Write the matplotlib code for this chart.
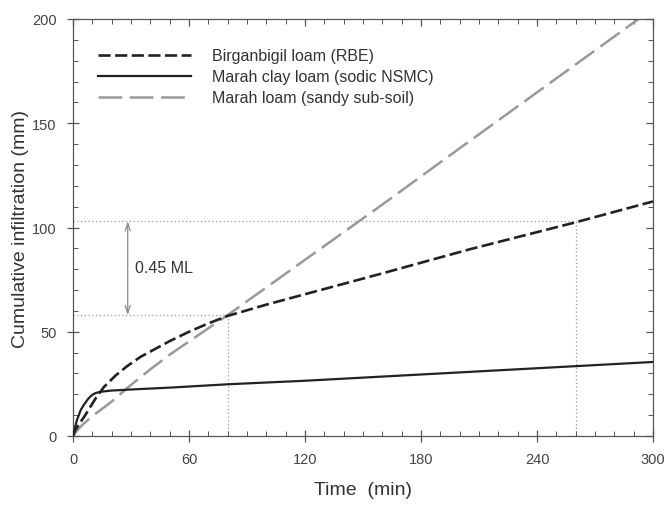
import matplotlib
matplotlib.use("Agg")
import matplotlib.pyplot as plt
from matplotlib.ticker import MultipleLocator

plt.rcParams['font.family'] = ['Liberation Sans', 'DejaVu Sans']

# Birganbigil loam (RBE)
time_rbe = [0, 1, 3, 6, 9, 12, 16, 22, 28, 35, 42, 50, 60, 70, 80, 100, 120, 160, 205, 260, 300]
infil_rbe = [0, 2.5, 5.5, 9.5, 14, 18.5, 23.5, 29, 33.5, 38, 41.5, 45.5, 50, 54, 57.6, 63, 68, 78, 89.5, 102.5, 112.5]

# Marah clay loam (sodic NSMC)
time_nsmc = [0, 1, 2, 3, 4, 6, 8, 10, 12, 15, 20, 30, 50, 80, 120, 180, 240, 300]
infil_nsmc = [0, 4, 7.5, 10, 12.5, 15.5, 18, 19.8, 20.7, 21.3, 21.8, 22.3, 23.2, 24.8, 26.5, 29.5, 32.5, 35.5]

# Marah loam (sandy sub-soil)
time_sandy = [0, 2, 5, 10, 15, 20, 30, 40, 50, 65, 80, 120, 160, 200, 250, 300]
infil_sandy = [0, 2.5, 5.5, 9.5, 13, 16.5, 24.5, 32, 39, 48.5, 58, 84.5, 111, 138, 171.5, 205]

labels = ["Birganbigil loam (RBE)", "Marah clay loam (sodic NSMC)", "Marah loam (sandy sub-soil)"]

# reference markers
ml_times = [80, 260]
ml_values = [58, 103]
ml_text = "0.45 ML"
ml_arrow_time = 28.3

xticks = [0, 60, 120, 180, 240, 300]
yticks = [0, 50, 100, 150, 200]

fig = plt.figure(figsize=(6.67, 5.06), dpi=100)
ax = fig.add_axes([73/667, 1-437/506, 580/667, 417/506])

txt = '#333333'
dot_c = '#9a9a9a'

# dotted guide lines
ax.plot([0, ml_times[0]], [ml_values[0]]*2, color=dot_c, lw=0.9, ls=(0, (1, 2)), zorder=1)
ax.plot([0, ml_times[1]], [ml_values[1]]*2, color=dot_c, lw=0.9, ls=(0, (1, 2)), zorder=1)
ax.plot([ml_times[0]]*2, [0, ml_values[0]], color=dot_c, lw=0.9, ls=(0, (1, 2)), zorder=1)
ax.plot([ml_times[1]]*2, [0, ml_values[1]], color=dot_c, lw=0.9, ls=(0, (1, 2)), zorder=1)

ax.annotate('', xy=(ml_arrow_time, ml_values[1]), xytext=(ml_arrow_time, ml_values[0]),
            arrowprops=dict(arrowstyle='<->,head_length=0.55,head_width=0.18', color='#8a8a8a', lw=0.9,
                            shrinkA=0, shrinkB=0))
ax.text(32, 80.7, ml_text, ha='left', va='center', fontsize=11.5, color=txt)

l1, = ax.plot(time_rbe, infil_rbe, color='#222222', lw=1.9, ls=(0, (4.6, 1.7)), label=labels[0], zorder=3)
l2, = ax.plot(time_nsmc, infil_nsmc, color='#222222', lw=1.6, ls='-', label=labels[1], zorder=3)
l3, = ax.plot(time_sandy, infil_sandy, color='#999999', lw=1.8, ls=(0, (9.5, 3)), label=labels[2], zorder=2)

ax.set_xlim(0, 300)
ax.set_ylim(0, 200)
ax.set_xticks(xticks)
ax.set_yticks(yticks)
ax.xaxis.set_minor_locator(MultipleLocator(10))
ax.yaxis.set_minor_locator(MultipleLocator(10))

for s in ax.spines.values():
    s.set_color('#555555')
    s.set_linewidth(0.9)

ax.tick_params(which='major', direction='inout', length=8.5, width=0.9, color='#555555',
               labelsize=10.5, labelcolor='#444444', pad=7.5, top=False, right=False)
ax.tick_params(which='minor', direction='in', length=3.5, width=0.7, color='#555555',
               top=False, right=False)

# inward ticks on top and right
secx = ax.secondary_xaxis('top')
secx.set_xticks(xticks)
secx.xaxis.set_minor_locator(MultipleLocator(10))
secx.tick_params(which='major', direction='in', length=5, width=0.9, color='#555555', labeltop=False)
secx.tick_params(which='minor', direction='in', length=3.5, width=0.7, color='#555555')
secx.spines['top'].set_visible(False)
secy = ax.secondary_yaxis('right')
secy.set_yticks(yticks)
secy.yaxis.set_minor_locator(MultipleLocator(10))
secy.tick_params(which='major', direction='in', length=5, width=0.9, color='#555555', labelright=False)
secy.tick_params(which='minor', direction='in', length=3.5, width=0.7, color='#555555')
secy.spines['right'].set_visible(False)

ax.set_xlabel('Time  (min)', fontsize=14, color=txt)
ax.set_ylabel('Cumulative infiltration (mm)', fontsize=14, color=txt)
ax.xaxis.set_label_coords(0.5, -0.108)
ax.yaxis.set_label_coords(-0.075, 0.5)

leg = ax.legend(handles=[l1, l2, l3], loc='upper left', bbox_to_anchor=(0.043, 0.93),
                frameon=False, fontsize=11.5, handlelength=5.8, handletextpad=1.35,
                labelspacing=0.38, borderpad=0, borderaxespad=0)
for t in leg.get_texts():
    t.set_color(txt)

fig.savefig('out.png', dpi=100)
